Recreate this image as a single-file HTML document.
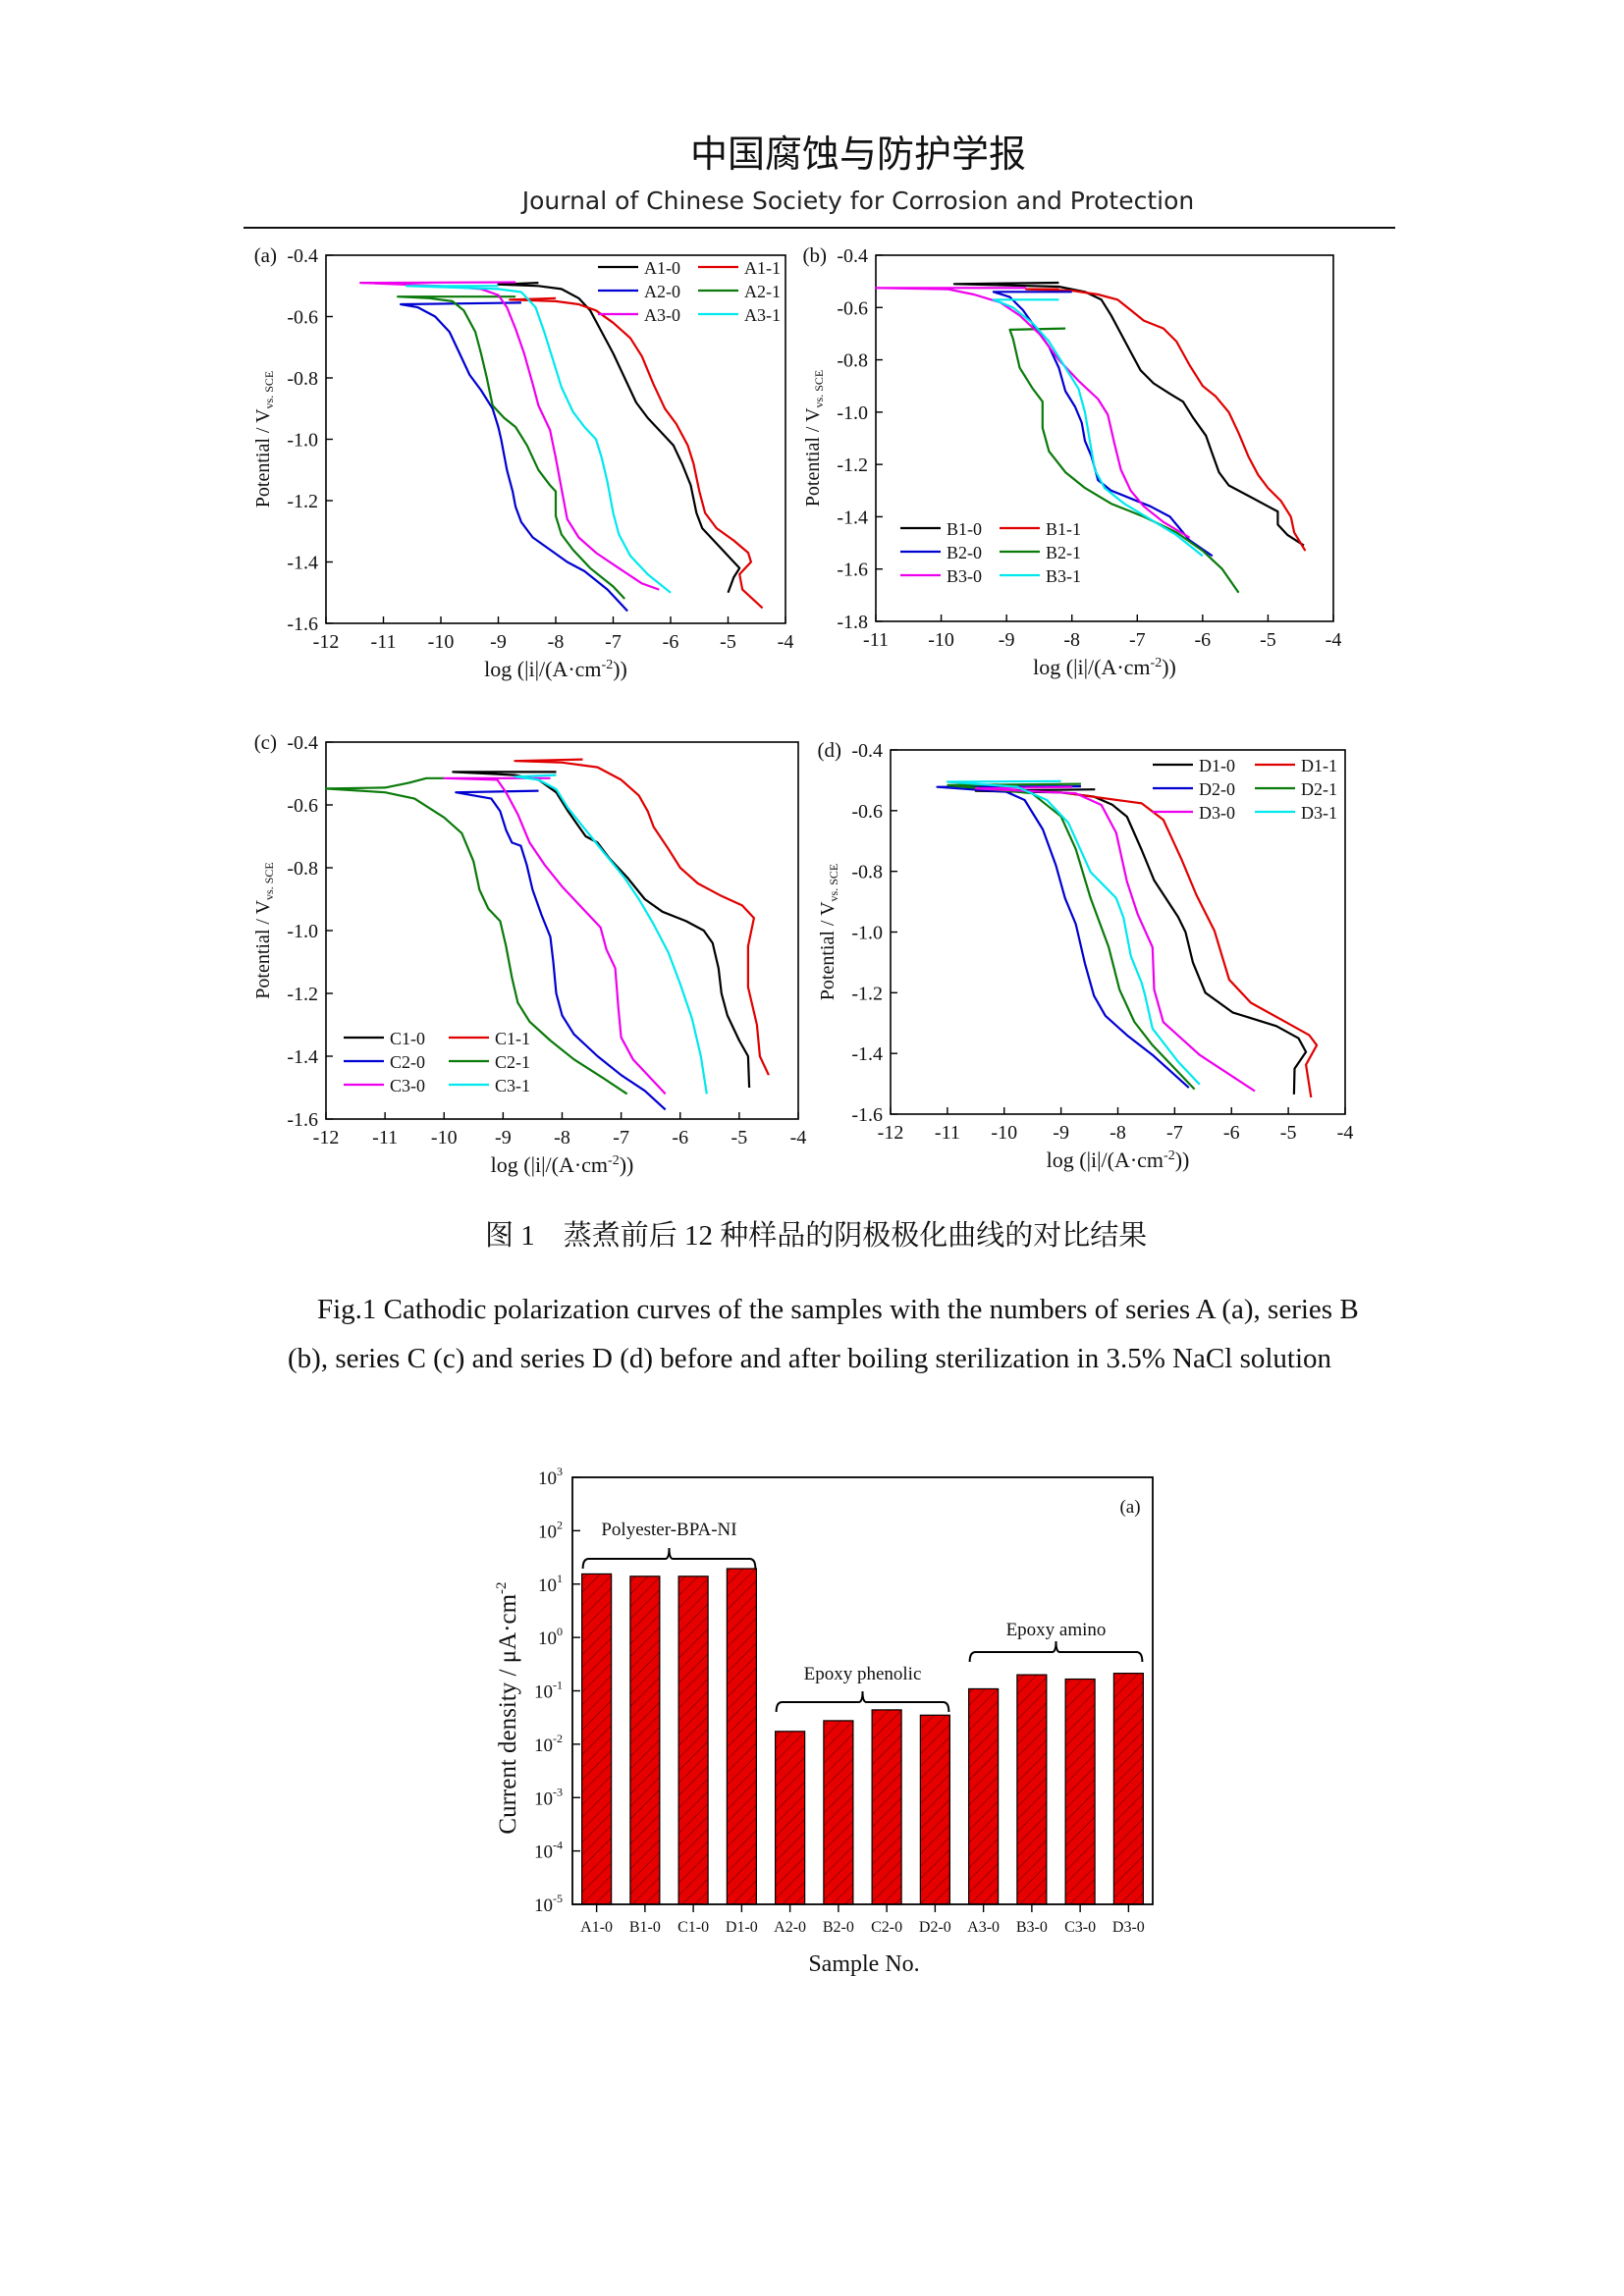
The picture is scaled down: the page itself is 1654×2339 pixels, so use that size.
<!DOCTYPE html>
<html><head><meta charset="utf-8"><style>
html,body{margin:0;padding:0;background:#fff;}
#page{position:relative;width:1654px;height:2339px;overflow:hidden;background:#fff;}
.t{position:absolute;white-space:nowrap;}
</style></head><body>
<div id="page">
<div class="t" style="left:0;width:1748px;top:126px;text-align:center;font:38px 'Noto Sans CJK SC','Liberation Sans',sans-serif;color:#111;">中国腐蚀与防护学报</div>
<div class="t" style="left:0;width:1748px;top:190px;text-align:center;font:25px 'DejaVu Sans','Liberation Sans',sans-serif;color:#222;">Journal of Chinese Society for Corrosion and Protection</div>
<div style="position:absolute;left:248px;top:231px;width:1173px;height:2px;background:#111;"></div>
<div class="t" style="left:494px;top:1245px;font:29px 'Liberation Serif','Noto Serif CJK SC',serif;color:#111;line-height:1;">图 1　蒸煮前后 12 种样品的阴极极化曲线的对比结果</div>
<div class="t" style="left:323px;top:1320px;font:29px 'Liberation Serif',serif;color:#111;line-height:1;">Fig.1 Cathodic polarization curves of the samples with the numbers of series A (a), series B</div>
<div class="t" style="left:293px;top:1370px;font:29px 'Liberation Serif',serif;color:#111;line-height:1;">(b), series C (c) and series D (d) before and after boiling sterilization in 3.5% NaCl solution</div>
<svg id="svg" width="1654" height="2339" style="position:absolute;left:0;top:0">
<defs><pattern id="hatch" width="9" height="9" patternUnits="userSpaceOnUse" patternTransform="rotate(45)"><rect width="9" height="9" fill="#e60000"/><line x1="0" y1="0" x2="0" y2="9" stroke="#5a0000" stroke-width="1"/></pattern></defs>
</svg>
</div>
<script>
// ---------- Panel (a) data: [log i, E]
const A1_0=[[-8.3,-0.49],[-9.0,-0.495],[-8.3,-0.50],[-7.9,-0.51],[-7.6,-0.54],[-7.4,-0.58],[-7.2,-0.65],[-7.0,-0.72],[-6.8,-0.80],[-6.6,-0.88],[-6.4,-0.93],[-6.2,-0.97],[-5.95,-1.02],[-5.8,-1.08],[-5.65,-1.15],[-5.55,-1.24],[-5.45,-1.29],[-5.2,-1.34],[-4.95,-1.39],[-4.8,-1.42],[-4.9,-1.45],[-5.0,-1.50]];
const A1_1=[[-8.0,-0.54],[-8.8,-0.545],[-8.0,-0.55],[-7.6,-0.56],[-7.3,-0.58],[-7.0,-0.62],[-6.7,-0.67],[-6.5,-0.73],[-6.3,-0.82],[-6.1,-0.90],[-5.9,-0.95],[-5.7,-1.02],[-5.6,-1.08],[-5.5,-1.17],[-5.4,-1.24],[-5.2,-1.29],[-4.9,-1.33],[-4.65,-1.37],[-4.6,-1.40],[-4.8,-1.44],[-4.75,-1.49],[-4.4,-1.55]];
const A2_0=[[-8.6,-0.555],[-10.7,-0.56],[-10.4,-0.57],[-10.1,-0.60],[-9.85,-0.65],[-9.7,-0.71],[-9.5,-0.79],[-9.3,-0.84],[-9.1,-0.90],[-9.0,-0.96],[-8.95,-1.00],[-8.85,-1.10],[-8.75,-1.17],[-8.7,-1.22],[-8.6,-1.27],[-8.4,-1.32],[-8.1,-1.36],[-7.8,-1.40],[-7.5,-1.43],[-7.1,-1.49],[-6.75,-1.56]];
const A2_1=[[-8.7,-0.535],[-10.75,-0.535],[-10.2,-0.54],[-9.8,-0.55],[-9.6,-0.58],[-9.4,-0.65],[-9.3,-0.72],[-9.2,-0.80],[-9.1,-0.89],[-8.9,-0.93],[-8.7,-0.96],[-8.5,-1.02],[-8.3,-1.10],[-8.1,-1.15],[-8.0,-1.17],[-8.0,-1.25],[-7.9,-1.31],[-7.7,-1.36],[-7.4,-1.42],[-7.0,-1.48],[-6.8,-1.52]];
const A3_0=[[-8.7,-0.488],[-11.4,-0.49],[-10.0,-0.50],[-9.3,-0.51],[-9.0,-0.53],[-8.85,-0.57],[-8.7,-0.64],[-8.55,-0.72],[-8.4,-0.82],[-8.3,-0.89],[-8.1,-0.97],[-8.0,-1.06],[-7.9,-1.16],[-7.8,-1.26],[-7.6,-1.32],[-7.3,-1.37],[-6.9,-1.42],[-6.5,-1.47],[-6.2,-1.49]];
const A3_1=[[-9.0,-0.50],[-10.6,-0.50],[-9.0,-0.51],[-8.6,-0.52],[-8.35,-0.57],[-8.2,-0.65],[-8.05,-0.74],[-7.9,-0.83],[-7.7,-0.91],[-7.5,-0.96],[-7.3,-1.00],[-7.2,-1.06],[-7.1,-1.14],[-7.0,-1.24],[-6.9,-1.31],[-6.7,-1.38],[-6.4,-1.44],[-6.0,-1.50]];
// ---------- Panel (b)
const B1_0=[[-8.2,-0.505],[-9.8,-0.51],[-8.2,-0.52],[-7.8,-0.54],[-7.55,-0.57],[-7.4,-0.63],[-7.25,-0.70],[-7.1,-0.77],[-6.95,-0.84],[-6.75,-0.89],[-6.5,-0.93],[-6.3,-0.96],[-6.15,-1.02],[-5.95,-1.09],[-5.85,-1.16],[-5.75,-1.23],[-5.6,-1.28],[-5.3,-1.32],[-5.0,-1.36],[-4.85,-1.38],[-4.85,-1.43],[-4.7,-1.47],[-4.45,-1.51]];
const B1_1=[[-8.2,-0.53],[-8.7,-0.53],[-8.0,-0.535],[-7.6,-0.55],[-7.3,-0.57],[-7.1,-0.61],[-6.9,-0.65],[-6.6,-0.68],[-6.4,-0.73],[-6.2,-0.82],[-6.0,-0.90],[-5.8,-0.94],[-5.6,-1.00],[-5.45,-1.08],[-5.3,-1.17],[-5.15,-1.24],[-5.0,-1.29],[-4.8,-1.34],[-4.65,-1.40],[-4.6,-1.46],[-4.43,-1.53]];
const B2_0=[[-8.0,-0.54],[-9.2,-0.54],[-8.95,-0.56],[-8.75,-0.61],[-8.55,-0.68],[-8.35,-0.75],[-8.2,-0.83],[-8.1,-0.92],[-7.95,-0.98],[-7.85,-1.04],[-7.8,-1.11],[-7.7,-1.17],[-7.6,-1.26],[-7.4,-1.30],[-7.1,-1.33],[-6.8,-1.36],[-6.5,-1.40],[-6.2,-1.49],[-5.85,-1.55]];
const B2_1=[[-8.1,-0.68],[-8.95,-0.685],[-8.9,-0.72],[-8.8,-0.83],[-8.6,-0.91],[-8.45,-0.96],[-8.45,-1.06],[-8.35,-1.15],[-8.1,-1.23],[-7.8,-1.29],[-7.4,-1.35],[-6.9,-1.40],[-6.4,-1.46],[-6.0,-1.53],[-5.7,-1.60],[-5.45,-1.69]];
const B3_0=[[-8.7,-0.525],[-11.0,-0.525],[-9.9,-0.53],[-9.5,-0.55],[-9.1,-0.58],[-8.8,-0.63],[-8.5,-0.70],[-8.2,-0.80],[-7.9,-0.88],[-7.6,-0.95],[-7.45,-1.01],[-7.35,-1.12],[-7.25,-1.22],[-7.1,-1.30],[-6.9,-1.36],[-6.6,-1.42],[-6.2,-1.48]];
const B3_1=[[-8.2,-0.57],[-9.2,-0.57],[-8.9,-0.60],[-8.6,-0.66],[-8.35,-0.73],[-8.1,-0.83],[-7.9,-0.91],[-7.8,-1.00],[-7.72,-1.12],[-7.65,-1.22],[-7.5,-1.29],[-7.2,-1.35],[-6.8,-1.41],[-6.4,-1.47],[-6.0,-1.55]];
// ---------- Panel (c)
const C1_0=[[-8.1,-0.495],[-9.85,-0.495],[-8.8,-0.505],[-8.4,-0.52],[-8.1,-0.56],[-7.9,-0.62],[-7.75,-0.66],[-7.6,-0.70],[-7.4,-0.72],[-7.2,-0.77],[-6.9,-0.83],[-6.6,-0.90],[-6.3,-0.94],[-5.9,-0.97],[-5.6,-1.00],[-5.45,-1.04],[-5.35,-1.12],[-5.3,-1.20],[-5.2,-1.27],[-5.0,-1.35],[-4.85,-1.40],[-4.83,-1.50]];
const C1_1=[[-7.65,-0.455],[-8.8,-0.46],[-8.0,-0.465],[-7.4,-0.48],[-7.0,-0.52],[-6.7,-0.57],[-6.55,-0.62],[-6.45,-0.67],[-6.2,-0.74],[-6.0,-0.80],[-5.7,-0.85],[-5.3,-0.89],[-4.95,-0.92],[-4.75,-0.96],[-4.85,-1.05],[-4.85,-1.18],[-4.7,-1.30],[-4.65,-1.40],[-4.5,-1.46]];
const C2_0=[[-8.4,-0.555],[-9.8,-0.56],[-9.2,-0.58],[-9.05,-0.62],[-8.95,-0.68],[-8.85,-0.72],[-8.7,-0.73],[-8.6,-0.79],[-8.5,-0.87],[-8.35,-0.95],[-8.2,-1.02],[-8.15,-1.10],[-8.1,-1.20],[-8.0,-1.27],[-7.8,-1.33],[-7.4,-1.40],[-7.0,-1.46],[-6.6,-1.51],[-6.25,-1.57]];
const C2_1=[[-10.0,-0.515],[-10.3,-0.515],[-10.6,-0.53],[-11.0,-0.545],[-12.0,-0.548],[-11.0,-0.56],[-10.5,-0.58],[-10.0,-0.64],[-9.7,-0.69],[-9.5,-0.78],[-9.4,-0.87],[-9.25,-0.93],[-9.05,-0.97],[-8.95,-1.05],[-8.85,-1.15],[-8.75,-1.23],[-8.55,-1.29],[-8.2,-1.35],[-7.8,-1.41],[-7.3,-1.47],[-6.9,-1.52]];
const C3_0=[[-8.2,-0.515],[-10.0,-0.515],[-9.1,-0.52],[-8.95,-0.56],[-8.75,-0.63],[-8.55,-0.72],[-8.3,-0.79],[-8.0,-0.86],[-7.6,-0.94],[-7.35,-0.99],[-7.25,-1.06],[-7.1,-1.12],[-7.05,-1.24],[-7.0,-1.34],[-6.8,-1.41],[-6.5,-1.47],[-6.25,-1.52]];
const C3_1=[[-8.1,-0.505],[-8.8,-0.51],[-8.4,-0.52],[-8.1,-0.55],[-7.9,-0.61],[-7.6,-0.68],[-7.3,-0.75],[-6.95,-0.83],[-6.7,-0.90],[-6.45,-0.98],[-6.2,-1.07],[-6.0,-1.17],[-5.8,-1.28],[-5.65,-1.40],[-5.55,-1.52]];
// ---------- Panel (d)
const D1_0=[[-8.4,-0.53],[-10.5,-0.535],[-9.0,-0.54],[-8.42,-0.554],[-8.1,-0.58],[-7.84,-0.62],[-7.58,-0.73],[-7.36,-0.83],[-6.94,-0.95],[-6.81,-1.0],[-6.68,-1.10],[-6.46,-1.20],[-5.98,-1.265],[-5.21,-1.31],[-4.82,-1.35],[-4.69,-1.395],[-4.89,-1.45],[-4.90,-1.535]];
const D1_1=[[-8.87,-0.543],[-7.58,-0.576],[-7.20,-0.63],[-6.88,-0.76],[-6.62,-0.877],[-6.30,-0.996],[-6.04,-1.157],[-5.66,-1.233],[-5.01,-1.30],[-4.63,-1.34],[-4.50,-1.373],[-4.69,-1.437],[-4.60,-1.545]];
const D2_0=[[-8.65,-0.52],[-11.18,-0.522],[-9.96,-0.538],[-9.64,-0.565],[-9.32,-0.662],[-9.09,-0.78],[-8.93,-0.888],[-8.74,-0.974],[-8.58,-1.103],[-8.42,-1.21],[-8.22,-1.276],[-7.84,-1.34],[-7.39,-1.405],[-6.75,-1.513]];
const D2_1=[[-8.65,-0.512],[-10.99,-0.516],[-9.51,-0.543],[-9.0,-0.619],[-8.74,-0.727],[-8.48,-0.888],[-8.16,-1.05],[-7.97,-1.19],[-7.71,-1.296],[-7.39,-1.373],[-6.65,-1.518]];
const D3_0=[[-8.8,-0.522],[-10.5,-0.527],[-8.74,-0.543],[-8.29,-0.581],[-8.03,-0.673],[-7.84,-0.834],[-7.65,-0.942],[-7.39,-1.05],[-7.36,-1.19],[-7.20,-1.297],[-6.56,-1.405],[-5.59,-1.524]];
const D3_1=[[-9.0,-0.503],[-11.0,-0.505],[-9.77,-0.522],[-9.25,-0.565],[-8.87,-0.64],[-8.48,-0.802],[-8.03,-0.888],[-7.90,-0.953],[-7.77,-1.08],[-7.58,-1.168],[-7.52,-1.21],[-7.39,-1.318],[-6.94,-1.427],[-6.56,-1.502]];
// ---------- Bar chart data
const barCategories=["A1-0","B1-0","C1-0","D1-0","A2-0","B2-0","C2-0","D2-0","A3-0","B3-0","C3-0","D3-0"];
const barValues=[15.5,14,14,19.5,0.0174,0.0276,0.044,0.035,0.109,0.2,0.166,0.213];
const barExponents=[-5,-4,-3,-2,-1,0,1,2,3];

const NS="http://www.w3.org/2000/svg";
const svg=document.getElementById('svg');
const COLORS=["#000000","#e00000","#0000d0","#0a7a0a","#ee00ee","#00e8ee"];
function mk(tag,attrs,parent){const e=document.createElementNS(NS,tag);for(const k in attrs)e.setAttribute(k,attrs[k]);(parent||svg).appendChild(e);return e;}
function txt(s,x,y,size,anchor,parent,fam){const e=mk('text',{x:x,y:y,'font-size':size,'text-anchor':anchor||'middle','font-family':fam||"'Liberation Serif',serif",fill:'#111'},parent);e.textContent=s;return e;}

function panel(cfg){
  const g=mk('g',{});
  
  
  const X=v=>cfg.L+(v-cfg.x0)/(cfg.x1-cfg.x0)*(cfg.R-cfg.L);
  const Y=v=>cfg.B-(v-cfg.y0)/(cfg.y1-cfg.y0)*(cfg.B-cfg.T);
  const fr=mk('rect',{x:cfg.L,y:cfg.T,width:cfg.R-cfg.L,height:cfg.B-cfg.T,fill:'none',stroke:'#000','stroke-width':1.6},g);
  
  for(let v=cfg.x0;v<=cfg.x1+1e-9;v+=1){
    mk('line',{x1:X(v),x2:X(v),y1:cfg.B,y2:cfg.B-7,stroke:'#000','stroke-width':1.4},g);
    const t=txt(String(v),X(v),cfg.B+25,20,'middle',g);
    
  }
  for(let v=cfg.y0;v<=cfg.y1+1e-9;v+=0.2){
    mk('line',{x1:cfg.L,x2:cfg.L+7,y1:Y(v),y2:Y(v),stroke:'#000','stroke-width':1.4},g);
    const t=txt(v.toFixed(1),cfg.L-8,Y(v)+7,20,'end',g);
    
  }
  const xl=mk('text',{x:(cfg.L+cfg.R)/2,y:cfg.B+54,'font-size':22,'text-anchor':'middle','font-family':"'Liberation Serif',serif",fill:'#111'},g);
  xl.innerHTML='log (|i|/(A·cm<tspan dy="-8" font-size="14">-2</tspan><tspan dy="8">))</tspan>';
  
  const yx=cfg.L-58, yy=(cfg.T+cfg.B)/2;
  const yl=mk('text',{x:yx,y:yy,'font-size':20,'text-anchor':'middle','font-family':"'Liberation Serif',serif",fill:'#111',transform:`rotate(-90 ${yx} ${yy})`},g);
  yl.innerHTML='Potential / V<tspan font-size="12" dy="4">vs. SCE</tspan>';
  
  const pl=txt('('+cfg.id+')',cfg.L-50,cfg.T+7,21,'end',g);
  
  cfg.series.forEach((s,i)=>{
    const d=s.data.map((p,j)=>(j?'L':'M')+X(p[0]).toFixed(1)+' '+Y(p[1]).toFixed(1)).join(' ');
    const path=mk('path',{d:d,fill:'none',stroke:COLORS[i],'stroke-width':2.2,'stroke-linejoin':'round'},g);
    
    
  });
  cfg.series.forEach((s,i)=>{
    const col=i%2, row=Math.floor(i/2);
    const lx=cfg.leg.cols[col], ly=cfg.leg.rows[row];
    const lg=mk('g',{},g);
    
    
    mk('line',{x1:lx,x2:lx+41,y1:ly,y2:ly,stroke:COLORS[i],'stroke-width':2.2},lg);
    txt(s.name,lx+47,ly+7,18,'start',lg);
  });
}
panel({id:'a',L:332,R:800,T:260,B:635,x0:-12,x1:-4,y0:-1.6,y1:-0.4,
  series:[{name:'A1-0',data:A1_0},{name:'A1-1',data:A1_1},{name:'A2-0',data:A2_0},{name:'A2-1',data:A2_1},{name:'A3-0',data:A3_0},{name:'A3-1',data:A3_1}],
  leg:{cols:[609,711],rows:[272,296,320]}});
panel({id:'b',L:892,R:1358,T:260,B:633,x0:-11,x1:-4,y0:-1.8,y1:-0.4,
  series:[{name:'B1-0',data:B1_0},{name:'B1-1',data:B1_1},{name:'B2-0',data:B2_0},{name:'B2-1',data:B2_1},{name:'B3-0',data:B3_0},{name:'B3-1',data:B3_1}],
  leg:{cols:[917,1018],rows:[538,562,586]}});
panel({id:'c',L:332,R:813,T:756,B:1140,x0:-12,x1:-4,y0:-1.6,y1:-0.4,
  series:[{name:'C1-0',data:C1_0},{name:'C1-1',data:C1_1},{name:'C2-0',data:C2_0},{name:'C2-1',data:C2_1},{name:'C3-0',data:C3_0},{name:'C3-1',data:C3_1}],
  leg:{cols:[350,457],rows:[1057,1081,1105]}});
panel({id:'d',L:907,R:1370,T:764,B:1135,x0:-12,x1:-4,y0:-1.6,y1:-0.4,
  series:[{name:'D1-0',data:D1_0},{name:'D1-1',data:D1_1},{name:'D2-0',data:D2_0},{name:'D2-1',data:D2_1},{name:'D3-0',data:D3_0},{name:'D3-1',data:D3_1}],
  leg:{cols:[1174,1278],rows:[779,803,827]}});

// ---------- Bar chart
(function(){
  const L=583,R=1174,T=1505,B=1940;
  const g=mk('g',{});
  
  
  const emin=barExponents[0], emax=barExponents[barExponents.length-1];
  const Y=v=>B-(Math.log10(v)-emin)/(emax-emin)*(B-T);
  const band=(R-L)/barCategories.length;
  const Xc=i=>L+band*(i+0.5);
  barCategories.forEach((c,i)=>{
    const y=Y(barValues[i]);
    const r=mk('rect',{x:Xc(i)-15,y:y,width:30,height:B-y,fill:'url(#hatch)',stroke:'#000','stroke-width':1.2},g);
    
    
    mk('line',{x1:Xc(i),x2:Xc(i),y1:B,y2:B+8,stroke:'#000','stroke-width':1.4},g);
    const t=txt(c,Xc(i),1968,16,'middle',g);
    
  });
  const fr=mk('rect',{x:L,y:T,width:R-L,height:B-T,fill:'none',stroke:'#000','stroke-width':1.8},g);
  
  barExponents.forEach(e=>{
    const y=Y(Math.pow(10,e));
    mk('line',{x1:L,x2:L+8,y1:y,y2:y,stroke:'#000','stroke-width':1.4},g);
    const t=mk('text',{x:L-10,y:y+7,'font-size':19,'text-anchor':'end','font-family':"'Liberation Serif',serif",fill:'#111'},g);
    t.innerHTML='10<tspan dy="-9" font-size="12">'+e+'</tspan>';
    
  });
  const xt=txt('Sample No.',880,2008,24,'middle',g);
  
  const yx=525,yy=1740;
  const yt=mk('text',{x:yx,y:yy,'font-size':25,'text-anchor':'middle','font-family':"'Liberation Serif',serif",fill:'#111',transform:`rotate(-90 ${yx} ${yy})`},g);
  yt.innerHTML='Current density / μA·cm<tspan dy="-10" font-size="15">-2</tspan>';
  
  const pl=txt('(a)',1151,1541,19,'middle',g);
  
  const brackets=[['Polyester-BPA-NI',0,3,1588,1564],['Epoxy phenolic',4,7,1734,1711],['Epoxy amino',8,11,1683,1666]];
  brackets.forEach(b=>{
    const x0=Xc(b[1])-14,x1=Xc(b[2])+14,y=b[3],xm=(x0+x1)/2;
    const bg=mk('g',{},g);
    
    
    mk('path',{d:`M${x0} ${y+10} Q${x0} ${y} ${x0+6} ${y} L${xm-4} ${y} Q${xm} ${y} ${xm} ${y-11} Q${xm} ${y} ${xm+4} ${y} L${x1-6} ${y} Q${x1} ${y} ${x1} ${y+10}`,fill:'none',stroke:'#000','stroke-width':2},bg);
    txt(b[0],xm,b[4],19,'middle',bg);
  });
})();
</script>
</body></html>
